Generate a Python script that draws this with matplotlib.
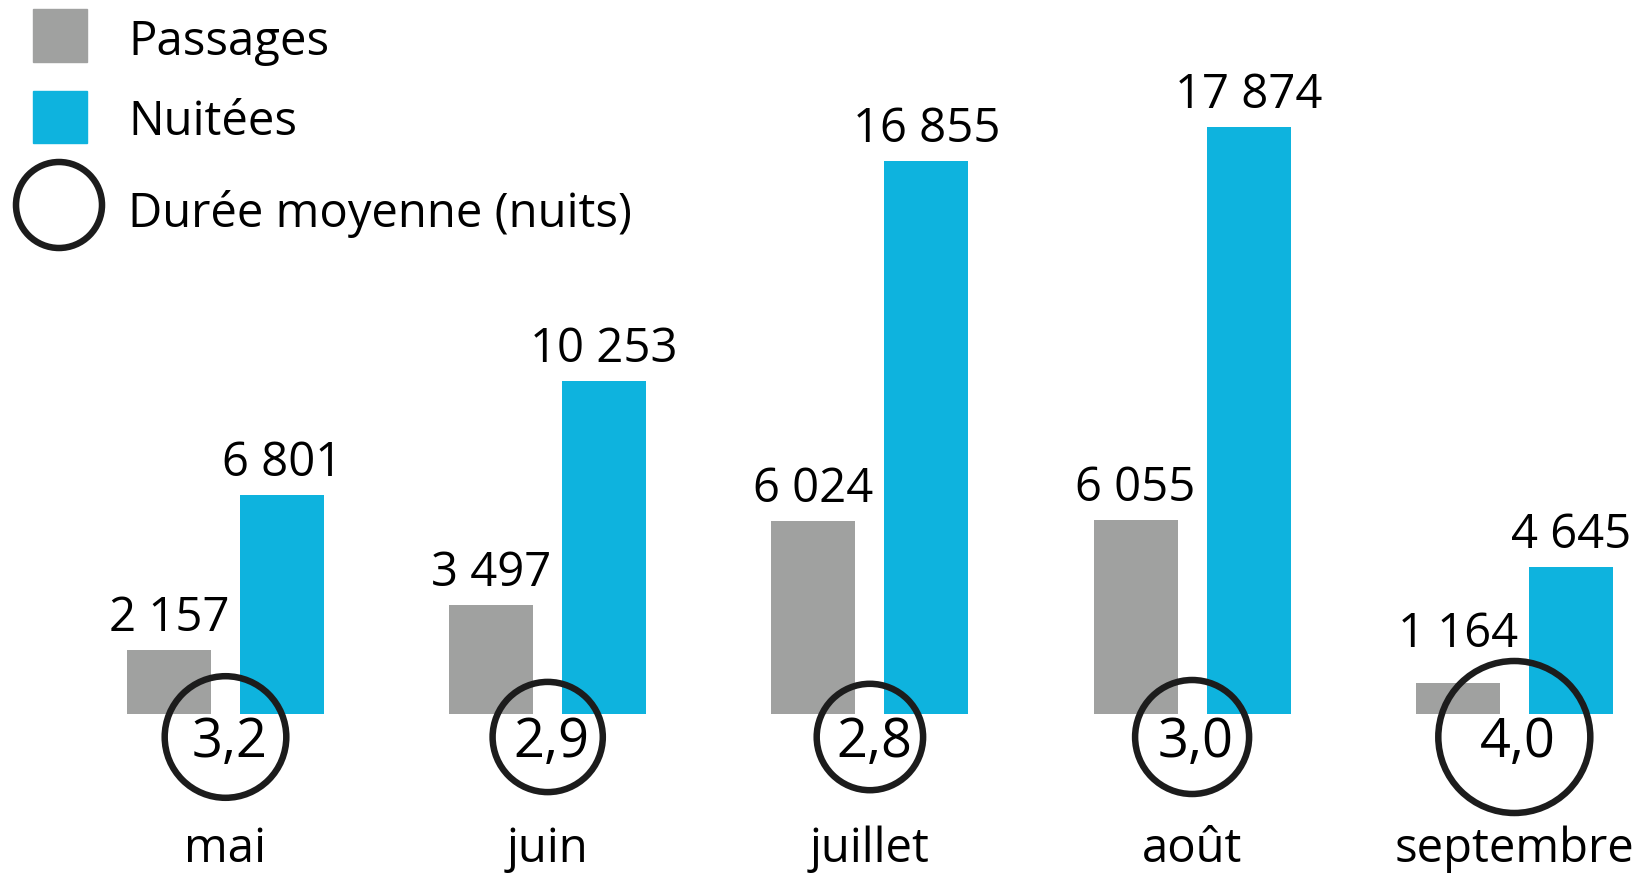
import matplotlib
matplotlib.use("Agg")
import matplotlib.pyplot as plt
from matplotlib.patches import Rectangle, Circle
import numpy as np

# --- data -------------------------------------------------------------
months = ["mai", "juin", "juillet", "août", "septembre"]
passages = [2157, 3497, 6024, 6055, 1164]
nuitees = [6801, 10253, 16855, 17874, 4645]
duree = [3.2, 2.9, 2.8, 3.0, 4.0]

legend_labels = ["Passages", "Nuitées", "Durée moyenne (nuits)"]

GRAY = "#a0a1a0"
BLUE = "#0eb3de"
INK = "#1c1c1c"

W, H, DPI = 1637, 876, 100
PT = 72 / DPI
plt.rcParams["font.family"] = ["Open Sans", "DejaVu Sans"]
FS = 34

fig = plt.figure(figsize=(W / DPI, H / DPI), dpi=DPI)

# axes: bottom edge is the bar baseline
base_px = 714
ax = fig.add_axes([0, (H - base_px) / H, 1, base_px / H])
ax.set_axis_off()

px_per_unit = 0.03327
y0 = 231
ax.set_ylim(y0, y0 + base_px / px_per_unit)

step_px = 322.2
first_px = 225.5
ax.set_xlim(-first_px / step_px, (W - first_px) / step_px)

x = np.arange(len(months))
bw = 84 / step_px
off = 56.5 / step_px

# circle geometry (pixels)
ring_lw = 6.5
circle_cy = 737
diam_px = [38.0 * d for d in duree]
circle_top = [circle_cy - (dp + ring_lw) / 2 for dp in diam_px]


def fmt_int(v):
    return f"{v:,}".replace(",", " ")


b1 = ax.bar(x - off, passages, width=bw, color=GRAY, zorder=2)
b2 = ax.bar(x + off, nuitees, width=bw, color=BLUE, zorder=2)

for bars, vals in ((b1, passages), (b2, nuitees)):
    for i, (rect, v) in enumerate(zip(bars, vals)):
        bar_top = base_px - (v - y0) * px_per_unit
        # keep the value clear of the ring below it
        baseline = min(bar_top - 19, circle_top[i] - 11)
        ax.annotate(fmt_int(v), (rect.get_x() + rect.get_width() / 2, v),
                    xytext=(0, (bar_top - baseline) * PT),
                    textcoords="offset points",
                    ha="center", va="baseline", fontsize=FS, color="black")

# average stay: rings whose diameter grows with the value
xt = ax.get_xaxis_transform()
cy = (base_px - circle_cy) / base_px
ax.scatter(x, [cy] * len(x), s=[(dp * PT) ** 2 for dp in diam_px],
           transform=xt, facecolors="none", edgecolors=INK,
           linewidths=ring_lw * PT, zorder=3, clip_on=False)
for xi, d in zip(x, duree):
    ax.text(xi + 4 / step_px, (base_px - 757) / base_px,
            f"{d:.1f}".replace(".", ","), transform=xt,
            ha="center", va="baseline", fontsize=FS + 5, color="black",
            zorder=4, clip_on=False)

for xi, m in zip(x, months):
    ax.text(xi, (base_px - 862) / base_px, m, transform=xt,
            ha="center", va="baseline", fontsize=FS, color="black",
            clip_on=False)


# --- legend, placed in figure pixels ----------------------------------
def fx(p):
    return p / W


def fy(p):
    return 1 - p / H


fig.add_artist(Rectangle((fx(33), fy(62)), fx(54), 53 / H,
                         transform=fig.transFigure, color=GRAY))
fig.add_artist(Rectangle((fx(33), fy(143)), fx(54), 52 / H,
                         transform=fig.transFigure, color=BLUE))
ax_leg = fig.add_axes([0, 0, 1, 1], zorder=5)
ax_leg.set_xlim(0, W)
ax_leg.set_ylim(H, 0)
ax_leg.set_axis_off()
ax_leg.add_patch(Circle((59, 205), 43, fill=False, edgecolor=INK,
                        linewidth=ring_lw * PT))
for lbl, ypx in zip(legend_labels, (42, 122, 214)):
    ax_leg.text(128, ypx, lbl, ha="left", va="center", fontsize=FS,
                color="black")

fig.savefig("out.png", dpi=DPI, facecolor="white")
